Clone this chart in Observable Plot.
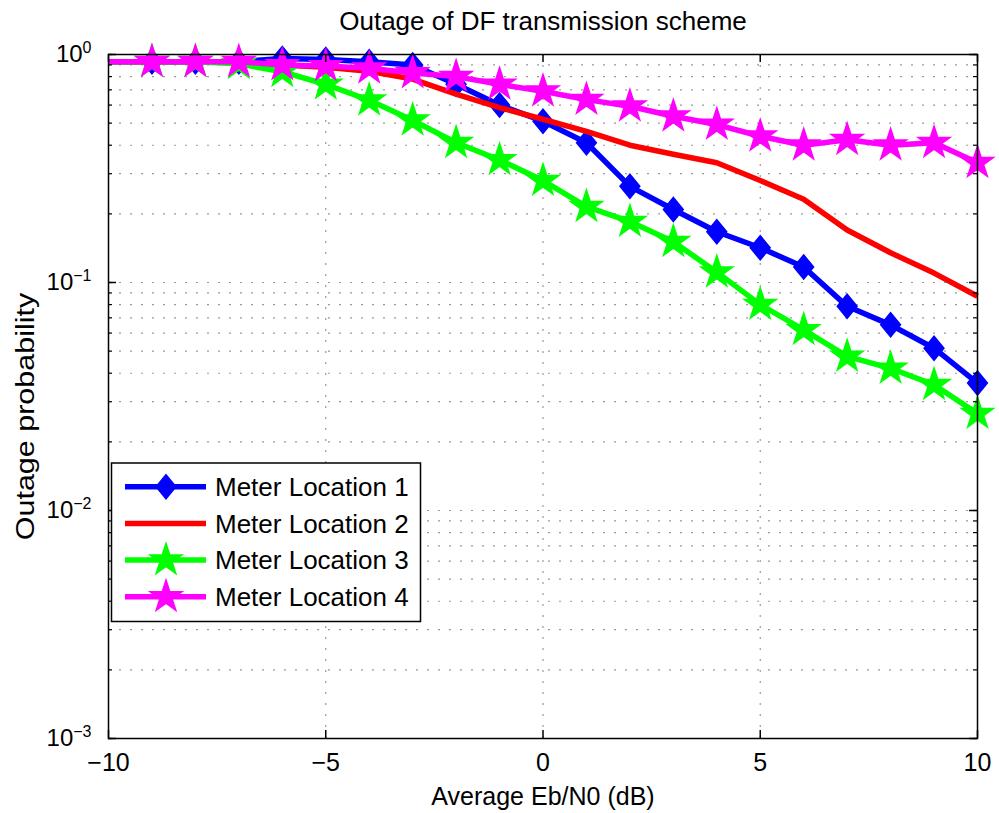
<!DOCTYPE html>
<html>
<head>
<meta charset="utf-8">
<script src="https://cdn.jsdelivr.net/npm/d3@7"></script>
<script src="https://cdn.jsdelivr.net/npm/@observablehq/plot@0.6"></script>
<style>
  body { margin: 0; background: #fff; }
  #chart { width: 999px; height: 813px; }
</style>
</head>
<body>
<div id="chart"></div>
<script>
// ---------------- data ----------------
const snr = [-10, -9, -8, -7, -6, -5, -4, -3, -2, -1, 0, 1, 2, 3, 4, 5, 6, 7, 8, 9, 10];
const loc1 = [0.93, 0.93, 0.93, 0.93, 0.96, 0.95, 0.93, 0.90, 0.74, 0.60, 0.51, 0.41, 0.264, 0.209, 0.167, 0.142, 0.117, 0.0786, 0.0652, 0.0515, 0.0362];
const loc2 = [0.93, 0.93, 0.93, 0.92, 0.90, 0.88, 0.845, 0.78, 0.67, 0.585, 0.52, 0.46, 0.40, 0.365, 0.335, 0.28, 0.232, 0.17, 0.135, 0.11, 0.087];
const loc3 = [0.93, 0.93, 0.93, 0.91, 0.84, 0.74, 0.63, 0.515, 0.41, 0.345, 0.28, 0.215, 0.185, 0.151, 0.111, 0.080, 0.062, 0.0474, 0.042, 0.0356, 0.0266];
const loc4 = [0.93, 0.93, 0.93, 0.93, 0.90, 0.89, 0.87, 0.83, 0.80, 0.74, 0.69, 0.634, 0.593, 0.536, 0.493, 0.438, 0.40, 0.423, 0.40, 0.41, 0.335];

const seriesNames = ["Meter Location 1", "Meter Location 2", "Meter Location 3", "Meter Location 4"];
const seriesColors = ["#0000ff", "#ff0000", "#00ff00", "#ff00ff"];
const seriesMarkers = ["diamond", "none", "star", "star"];

const xTicks = [-10, -5, 0, 5, 10];
const xGrid = [-5, 0, 5];
const yDecades = [1e-3, 1e-2, 1e-1, 1];
const yExponents = ["−3", "−2", "−1", "0"];

const titleText = "Outage of DF transmission scheme";
const xLabel = "Average Eb/N0 (dB)";
const yLabel = "Outage probability";

// ---------------- derived ----------------
const allSeries = [loc1, loc2, loc3, loc4];
const rows = [];
allSeries.forEach((vals, i) => vals.forEach((v, j) => rows.push({x: snr[j], y: v, s: seriesNames[i], i})));

const yMinor = [];
for (let k = -3; k < 0; k++) for (let m = 1; m <= 9; m++) yMinor.push(+(m * Math.pow(10, k)).toPrecision(3));
yMinor.push(1);

const W = 999, H = 813, mL = 108, mR = 22, mT = 54, mB = 75;
const fw = W - mL - mR, fh = H - mT - mB;
const font = "'Liberation Sans', Arial, Helvetica, sans-serif";

const matDiamond = {
  draw(ctx, size) {
    const h = Math.sqrt(size) * 0.74, w = h * 0.82;
    ctx.moveTo(0, -h); ctx.lineTo(w, 0); ctx.lineTo(0, h); ctx.lineTo(-w, 0); ctx.closePath();
  }
};
const symbolFor = m => m === "diamond" ? matDiamond : d3.symbolStar;
const rFor = m => m === "diamond" ? 9.2 : 10;

const gridStyle = {stroke: "#000", strokeOpacity: 0.4, strokeWidth: 1.2, strokeDasharray: "2,9"};

const seriesMarks = allSeries.flatMap((vals, i) => {
  const data = rows.filter(d => d.i === i);
  const ms = [Plot.line(data, {x: "x", y: "y", stroke: seriesColors[i], strokeWidth: 5.5, strokeLinejoin: "round", strokeLinecap: "butt"})];
  if (seriesMarkers[i] !== "none") {
    ms.push(Plot.dot(data.filter(d => d.x > -10), {
      x: "x", y: "y", r: rFor(seriesMarkers[i]), symbol: symbolFor(seriesMarkers[i]),
      fill: seriesColors[i], stroke: seriesColors[i], strokeWidth: 1.5
    }));
  }
  return ms;
});

const chart = Plot.plot({
  width: W, height: H,
  marginLeft: mL, marginRight: mR, marginTop: mT, marginBottom: mB,
  style: {fontFamily: font, fontSize: "24px", color: "#000", background: "#fff"},
  x: {domain: [-10, 10]},
  y: {type: "log", domain: [1e-3, 1]},
  marks: [
    Plot.gridY(yMinor, gridStyle),
    Plot.gridX(xGrid, gridStyle),
    ...seriesMarks,
    Plot.frame({stroke: "#000", strokeWidth: 1.5}),
    // inward tick marks
    Plot.ruleY(yMinor, {insetRight: fw - 4, stroke: "#000", strokeWidth: 1.2}),
    Plot.ruleY(yMinor, {insetLeft: fw - 4, stroke: "#000", strokeWidth: 1.2}),
    Plot.ruleY(yDecades, {insetRight: fw - 8, stroke: "#000", strokeWidth: 1.5}),
    Plot.ruleY(yDecades, {insetLeft: fw - 8, stroke: "#000", strokeWidth: 1.5}),
    Plot.ruleX(xTicks, {insetTop: fh - 8, stroke: "#000", strokeWidth: 1.5}),
    Plot.ruleX(xTicks, {insetBottom: fh - 8, stroke: "#000", strokeWidth: 1.5}),
    // tick labels
    Plot.axisX(xTicks, {anchor: "bottom", tickSize: 0, tickPadding: 15, fontSize: 25, label: null,
      tickFormat: d => (d < 0 ? "−" : "") + Math.abs(d)}),
    Plot.axisY(yDecades, {anchor: "left", tickSize: 0, tickPadding: 17, fontSize: 24, label: null,
      tickFormat: d => "10^" + yExponents[yDecades.indexOf(d)]}),
    // title & axis labels
    Plot.text([titleText], {frameAnchor: "top", dy: -33, fontSize: 26, lineAnchor: "middle", fill: "#000"}),
    Plot.text([xLabel], {frameAnchor: "bottom", dy: 58, fontSize: 25, lineAnchor: "middle", fill: "#000"}),
    Plot.text([yLabel], {frameAnchor: "left", dx: -83, dy: 20, rotate: -90, fontSize: 25, textAnchor: "middle", lineAnchor: "middle", fill: "#000"})
  ]
});

document.getElementById("chart").appendChild(chart);

// superscript exponents on y tick labels
d3.select(chart).selectAll('g[aria-label="y-axis tick label"] text').each(function () {
  const t = this.textContent;
  if (!t.includes("^")) return;
  const [base, exp] = t.split("^");
  const sel = d3.select(this);
  sel.text(base);
  sel.append("tspan").attr("dy", "-0.55em").attr("font-size", 16).text(exp);
});

// stretch the y label along its length like the reference
d3.select(chart).selectAll("text").filter(function () { return this.textContent === yLabel; })
  .each(function () {
    const tr = this.getAttribute("transform") || "";
    this.setAttribute("transform", tr + " scale(1.22,1)");
  });

// legend
const svg = d3.select(chart);
const lg = svg.append("g").attr("font-family", font).attr("font-size", 26).attr("text-anchor", "start");
const box = {x: 111.5, y: 463, w: 309, h: 158.5};
lg.append("rect").attr("x", box.x).attr("y", box.y).attr("width", box.w).attr("height", box.h)
  .attr("fill", "#fff").attr("stroke", "#000").attr("stroke-width", 1.5);
seriesNames.forEach((name, i) => {
  const cy = box.y + 23.7 + i * 36.7;
  const g = lg.append("g");
  g.append("line").attr("x1", 125).attr("x2", 206).attr("y1", cy).attr("y2", cy)
    .attr("stroke", seriesColors[i]).attr("stroke-width", 5.5);
  if (seriesMarkers[i] !== "none") {
    const r = rFor(seriesMarkers[i]);
    g.append("path").attr("transform", `translate(166,${cy})`)
      .attr("d", d3.symbol(symbolFor(seriesMarkers[i]), r * r * Math.PI)())
      .attr("fill", seriesColors[i]).attr("stroke", seriesColors[i]).attr("stroke-width", 1.5);
  }
  g.append("text").attr("x", 215).attr("y", cy).attr("dy", "0.35em").attr("text-anchor", "start")
    .attr("fill", "#000").text(name);
});
</script>
</body>
</html>
